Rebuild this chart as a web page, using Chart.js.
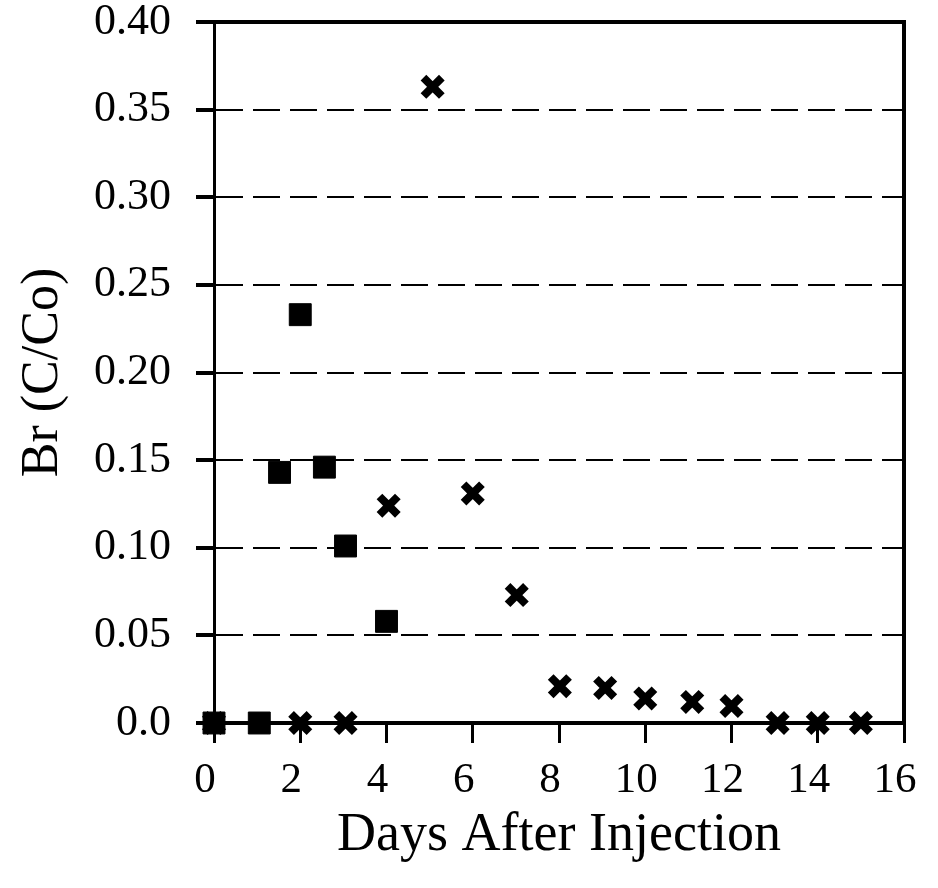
<!DOCTYPE html>
<html>
<head>
    <title>Br breakthrough</title>
    <script src="https://cdn.jsdelivr.net/npm/chart.js"></script>
    <style>
        html, body {
            margin: 0;
            padding: 0;
            background: #ffffff;
        }
        #wrap {
            width: 938px;
            height: 888px;
        }
    </style>
</head>
<body>
    <div id="wrap"><canvas id="brChart" width="938" height="888"></canvas></div>

    <script>
        // Squares (first well)
        var squareDays = [0, 1.05, 1.52, 2.0, 2.56, 3.05, 4.0];
        var squareBr = [0, 0, 0.143, 0.233, 0.146, 0.101, 0.058];

        // Crosses (second well)
        var crossDays = [0, 2.0, 3.05, 4.05, 5.07, 6.0, 7.02, 8.02, 9.07, 10.0, 11.09, 12.0, 13.07, 14.0, 15.0];
        var crossBr = [0, 0, 0, 0.124, 0.363, 0.131, 0.073, 0.021, 0.020, 0.014, 0.012, 0.0097, 0, 0, 0];

        var xTicks = [0, 2, 4, 6, 8, 10, 12, 14, 16];
        var yTicks = [0, 0.05, 0.10, 0.15, 0.20, 0.25, 0.30, 0.35, 0.40];

        var serif = 'Liberation Serif';

        function toPoints(xs, ys) {
            return xs.map(function(x, i) { return { x: x, y: ys[i] }; });
        }

        var ctx = document.getElementById('brChart').getContext('2d');
        new Chart(ctx, {
            type: 'scatter',
            data: {
                datasets: [
                    {
                        label: 'Squares',
                        data: toPoints(squareDays, squareBr),
                        pointStyle: 'rect',
                        pointRadius: 15.5,
                        pointBorderWidth: 1,
                        backgroundColor: '#000',
                        borderColor: '#000',
                        clip: false
                    },
                    {
                        label: 'Crosses',
                        data: toPoints(crossDays, crossBr),
                        pointStyle: 'crossRot',
                        pointRadius: 13,
                        pointBorderWidth: 8,
                        backgroundColor: '#000',
                        borderColor: '#000',
                        clip: false
                    }
                ]
            },
            options: {
                responsive: false,
                animation: false,
                layout: { padding: { top: 22, right: 34, left: 0, bottom: 0 } },
                plugins: {
                    legend: { display: false },
                    tooltip: { enabled: false }
                },
                scales: {
                    x: {
                        type: 'linear',
                        min: 0,
                        max: 16,
                        afterBuildTicks: function(scale) {
                            scale.ticks = xTicks.map(function(v) { return { value: v }; });
                        },
                        afterFit: function(scale) {
                            scale.height = 165;
                            scale.paddingLeft = 0;
                            scale.paddingRight = 0;
                        },
                        grid: {
                            drawOnChartArea: false,
                            drawTicks: true,
                            tickLength: 20,
                            lineWidth: 3,
                            color: '#000'
                        },
                        border: { display: true, color: '#000', width: 4 },
                        ticks: {
                            color: '#000',
                            font: { family: serif, size: 43 },
                            padding: 12,
                            labelOffset: -9,
                            maxRotation: 0
                        },
                        title: {
                            display: true,
                            text: 'Days After Injection',
                            color: '#000',
                            font: { family: serif, size: 54 },
                            padding: { top: 0, bottom: 20 }
                        }
                    },
                    y: {
                        type: 'linear',
                        min: 0,
                        max: 0.4,
                        afterBuildTicks: function(scale) {
                            scale.ticks = yTicks.map(function(v) { return { value: v }; });
                        },
                        afterFit: function(scale) {
                            scale.width = 214;
                            scale.paddingTop = 0;
                            scale.paddingBottom = 0;
                        },
                        grid: {
                            drawOnChartArea: true,
                            drawTicks: true,
                            tickLength: 18,
                            lineWidth: 2,
                            tickWidth: 4,
                            color: '#000'
                        },
                        border: { display: true, color: '#000', width: 3, dash: [27, 10] },
                        ticks: {
                            color: '#000',
                            font: { family: serif, size: 44 },
                            padding: 25,
                            callback: function(v) { return v === 0 ? '0.0' : v.toFixed(2); }
                        },
                        title: {
                            display: true,
                            text: 'Br (C/Co)',
                            color: '#000',
                            font: { family: serif, size: 52 },
                            padding: { top: 12, bottom: 0 }
                        }
                    },
                    xTop: {
                        type: 'linear',
                        position: 'top',
                        min: 0,
                        max: 16,
                        afterFit: function(scale) { scale.height = 0; },
                        grid: { drawOnChartArea: false, drawTicks: false },
                        border: { display: true, color: '#000', width: 4 },
                        ticks: { display: false }
                    },
                    yRight: {
                        type: 'linear',
                        position: 'right',
                        min: 0,
                        max: 0.4,
                        afterFit: function(scale) { scale.width = 0; },
                        grid: { drawOnChartArea: false, drawTicks: false },
                        border: { display: true, color: '#000', width: 4 },
                        ticks: { display: false }
                    }
                }
            }
        });
    </script>
</body>
</html>
